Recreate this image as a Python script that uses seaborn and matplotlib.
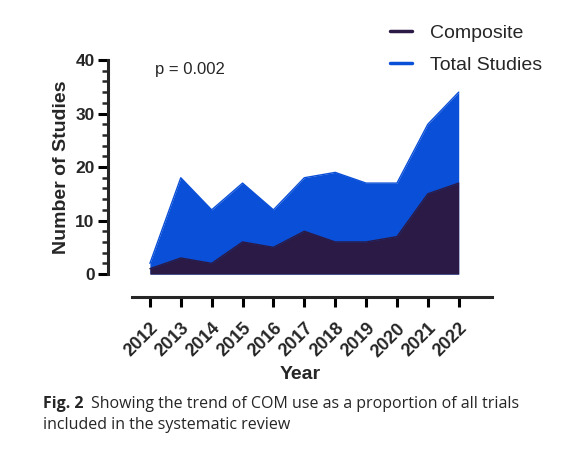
import matplotlib
matplotlib.use("Agg")
import matplotlib.pyplot as plt
import numpy as np
import pandas as pd
import seaborn as sns
from matplotlib.ticker import MultipleLocator

years = [2012, 2013, 2014, 2015, 2016, 2017, 2018, 2019, 2020, 2021, 2022]
total_studies = [2, 18, 12, 17, 12, 18, 19, 17, 17, 28, 34]
composite = [1, 3, 2, 6, 5, 8, 6, 6, 7, 15, 17]

blue = '#0a4fd8'
dark = '#2a1a45'

df = pd.DataFrame({'Year': years, 'Total Studies': total_studies, 'Composite': composite})

sns.set_style('ticks')
plt.rcParams['font.family'] = ['Liberation Sans', 'DejaVu Sans']

fig = plt.figure(figsize=(5.62, 4.53), dpi=100)
ax = fig.add_axes([0.192, 0.395, 0.683, 0.4725])

# lines first (seaborn), then fill underneath
sns.lineplot(data=df, x='Year', y='Total Studies', ax=ax, color=blue, lw=1, label='_nolegend_')
sns.lineplot(data=df, x='Year', y='Composite', ax=ax, color=dark, lw=1, label='_nolegend_')
ax.fill_between(df['Year'], df['Total Studies'], color=blue, lw=0)
ax.fill_between(df['Year'], df['Composite'], color=dark, lw=0)

ax.set_xlim(2010.64, 2023.07)
ax.set_ylim(0, 40)
ax.set_xticks(years)
ax.yaxis.set_major_locator(MultipleLocator(10))
ax.yaxis.set_minor_locator(MultipleLocator(2))

for side in ['top', 'right']:
    ax.spines[side].set_visible(False)
ax.spines['left'].set_linewidth(2.2)
ax.spines['bottom'].set_linewidth(2.2)
ax.spines['bottom'].set_position(('outward', 16.5))
ax.spines['bottom'].set_bounds(2011.42, 2023.07)
ax.tick_params(axis='both', which='major', width=2.2, length=7.5, color='black', pad=2)
ax.tick_params(axis='x', which='major', pad=9)
ax.tick_params(axis='y', which='minor', width=1.8, length=4.5)

ax.set_xticklabels([str(y) for y in years], rotation=45, ha='right',
                   rotation_mode='anchor', fontsize=13, fontweight='bold')
ax.set_yticks([0, 10, 20, 30, 40])
ax.set_yticklabels(['0', '10', '20', '30', '40'], fontsize=12.5, fontweight='bold')

ax.set_xlabel('Year', fontsize=14, fontweight='bold', labelpad=4)
ax.set_ylabel('Number of Studies', fontsize=14, fontweight='bold', labelpad=4)

ax.text(2012.15, 37.3, 'p = 0.002', fontsize=12)

handles = [plt.Line2D([], [], color=dark, lw=2.5), plt.Line2D([], [], color=blue, lw=2.5)]
fig.legend(handles, ['Composite', 'Total Studies'], loc='upper left',
           bbox_to_anchor=(0.662, 0.985), frameon=False, fontsize=14,
           handlelength=1.15, handletextpad=0.95, labelspacing=0.75)

fig.text(0.076, 0.099, 'Fig. 2', fontsize=11.5, fontweight='bold', family='Open Sans')
fig.text(0.162, 0.099, 'Showing the trend of COM use as a proportion of all trials',
         fontsize=11.5, family='Open Sans')
fig.text(0.076, 0.054, 'included in the systematic review', fontsize=11.5, family='Open Sans')

fig.savefig('out.png', dpi=100)
